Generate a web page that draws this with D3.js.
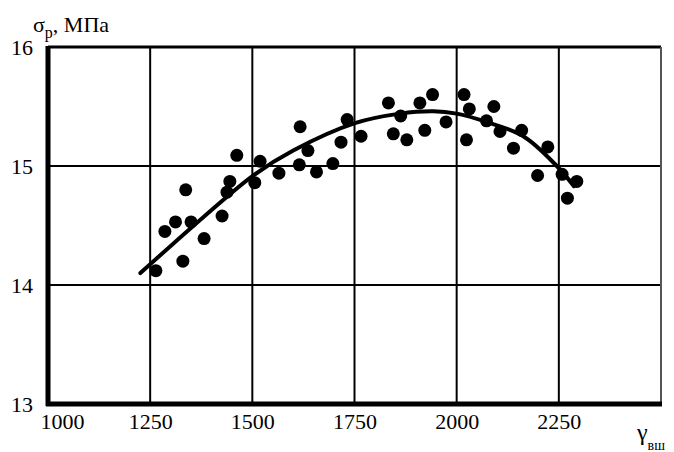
<!DOCTYPE html>
<html>
<head>
<meta charset="utf-8">
<script src="https://cdn.jsdelivr.net/npm/d3@7"></script>
<style>
  body { margin: 0; background: #fff; }
  #chart text { font-family: 'Liberation Serif', 'DejaVu Serif', serif !important; }
</style>
</head>
<body>
<svg id="chart" width="674" height="452"></svg>
<script>
const xTicks = [1000, 1250, 1500, 1750, 2000, 2250];
const yTicks = [13, 14, 15, 16];

// measured points: gamma_vsh and sigma_p
const gammaVals = [1264, 1286, 1312, 1330, 1337, 1350, 1382, 1426, 1438, 1445, 1462,
  1506, 1519, 1565, 1615, 1617, 1636, 1657, 1697, 1717, 1732, 1766, 1833, 1845,
  1863, 1878, 1910, 1922, 1941, 1974, 2018, 2031, 2024, 2073, 2091, 2106, 2139,
  2159, 2198, 2223, 2258, 2271, 2294];
const sigmaVals = [14.12, 14.45, 14.53, 14.20, 14.80, 14.53, 14.39, 14.58, 14.78, 14.87, 15.09,
  14.86, 15.04, 14.94, 15.01, 15.33, 15.13, 14.95, 15.02, 15.20, 15.39, 15.25, 15.53, 15.27,
  15.42, 15.22, 15.53, 15.30, 15.60, 15.37, 15.60, 15.48, 15.22, 15.38, 15.50, 15.29, 15.15,
  15.30, 14.92, 15.16, 14.93, 14.73, 14.87];

// trend curve
const fitGamma = [1226, 1380, 1502, 1600, 1751, 1861, 1943, 2000, 2073, 2163, 2245, 2287];
const fitSigma = [14.10, 14.57, 14.92, 15.13, 15.36, 15.44, 15.46, 15.44, 15.37, 15.25, 15.00, 14.83];

const svg = d3.select("#chart");
const x = d3.scaleLinear().domain([1000, 2500]).range([48, 661]);
const y = d3.scaleLinear().domain([13, 16]).range([404, 47]);

// grid
svg.append("g")
  .selectAll("line")
  .data([14, 15])
  .enter()
  .append("line")
  .attr("x1", x(1000)).attr("x2", x(2500))
  .attr("y1", d => y(d)).attr("y2", d => y(d))
  .attr("stroke", "#000").attr("stroke-width", 2);

svg.append("g")
  .selectAll("line")
  .data(xTicks.slice(1))
  .enter()
  .append("line")
  .attr("x1", d => x(d)).attr("x2", d => x(d))
  .attr("y1", y(16)).attr("y2", y(13))
  .attr("stroke", "#000").attr("stroke-width", 2);

// frame
svg.append("line")
  .attr("x1", x(1000)).attr("x2", x(2500))
  .attr("y1", y(16)).attr("y2", y(16))
  .attr("stroke", "#000").attr("stroke-width", 3);
svg.append("line")
  .attr("x1", x(2500)).attr("x2", x(2500))
  .attr("y1", y(16)).attr("y2", y(13))
  .attr("stroke", "#555").attr("stroke-width", 2);
svg.append("line")
  .attr("x1", x(1000)).attr("x2", x(1000))
  .attr("y1", y(16) - 1).attr("y2", y(13) + 2)
  .attr("stroke", "#000").attr("stroke-width", 5);
svg.append("line")
  .attr("x1", x(1000) - 2).attr("x2", x(2500) + 1)
  .attr("y1", y(13)).attr("y2", y(13))
  .attr("stroke", "#000").attr("stroke-width", 5);

// trend line
const fit = fitGamma.map((g, i) => [g, fitSigma[i]]);
svg.append("path")
  .datum(fit)
  .attr("fill", "none")
  .attr("stroke", "#000")
  .attr("stroke-width", 4)
  .attr("stroke-linecap", "round")
  .attr("d", d3.line().x(d => x(d[0])).y(d => y(d[1])).curve(d3.curveCatmullRom));

// points
const pts = gammaVals.map((g, i) => [g, sigmaVals[i]]);
svg.append("g")
  .selectAll("circle")
  .data(pts)
  .enter()
  .append("circle")
  .attr("cx", d => x(d[0]))
  .attr("cy", d => y(d[1]))
  .attr("r", 6.5)
  .attr("fill", "#000");

// axes (labels only)
const xAxis = svg.append("g")
  .attr("transform", `translate(0,${y(13)})`)
  .call(d3.axisBottom(x).tickValues(xTicks).tickSize(0).tickPadding(9).tickFormat(d3.format("d")))
  .attr("font-size", 22);
xAxis.select(".domain").remove();
xAxis.selectAll("text").attr("fill", "#000");
xAxis.selectAll(".tick").filter(d => d === 1000).select("text").attr("x", 14);

const yAxis = svg.append("g")
  .attr("transform", `translate(${x(1000)},0)`)
  .call(d3.axisLeft(y).tickValues(yTicks).tickSize(0).tickPadding(15).tickFormat(d3.format("d")))
  .attr("font-size", 22);
yAxis.select(".domain").remove();
yAxis.selectAll("text").attr("fill", "#000");

// axis titles
const yTitle = svg.append("text")
  .attr("x", 33).attr("y", 32)
  .attr("font-size", 22);
yTitle.append("tspan").text("σ");
yTitle.append("tspan").attr("font-size", 16).attr("dy", 6).text("р");
yTitle.append("tspan").attr("dy", -6).text(", МПа");

const xTitle = svg.append("text")
  .attr("x", 637).attr("y", 440)
  .attr("font-size", 24);
xTitle.append("tspan").text("γ");
xTitle.append("tspan").attr("font-size", 14).attr("dy", 10).text("вш");
</script>
</body>
</html>
